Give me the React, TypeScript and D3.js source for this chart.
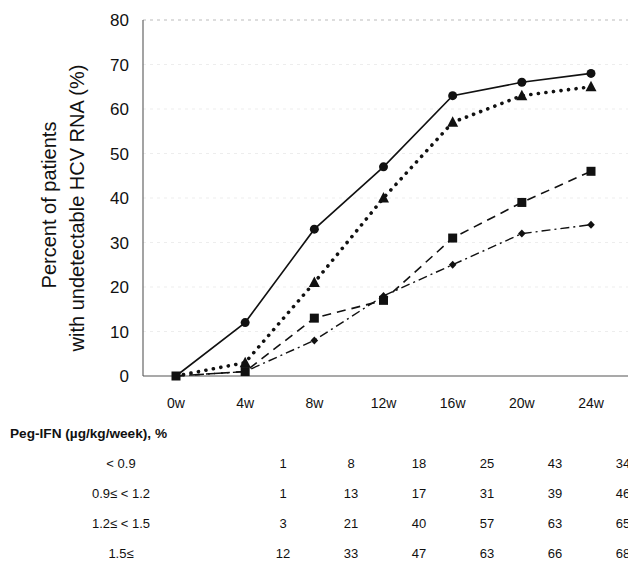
import React from "react";
import * as d3 from "d3";

const weeks = ["0w", "4w", "8w", "12w", "16w", "20w", "24w"];
const yTicks = [0, 10, 20, 30, 40, 50, 60, 70, 80];

// plotted values
const lt09 = [0, 1, 8, 18, 25, 32, 34];
const s09to12 = [0, 1, 13, 17, 31, 39, 46];
const s12to15 = [0, 3, 21, 40, 57, 63, 65];
const ge15 = [0, 12, 33, 47, 63, 66, 68];

// table (as printed)
const tableHeader = "Peg-IFN (µg/kg/week), %";
const tableLabels = ["< 0.9", "0.9\u2264  < 1.2", "1.2\u2264  < 1.5", "1.5\u2264"];
const tableRows = [
  [1, 8, 18, 25, 43, 34],
  [1, 13, 17, 31, 39, 46],
  [3, 21, 40, 57, 63, 65],
  [12, 33, 47, 63, 66, 68],
];

const W = 628;
const H = 566;
const FONT = "'Liberation Sans', Arial, sans-serif";

export default function App() {
  const axisX = 143;
  const y = d3.scaleLinear().domain([0, 80]).range([376, 20]);
  const x = d3.scalePoint<string>().domain(weeks).range([176, 591]);

  const line = d3
    .line<number>()
    .x((_, i) => x(weeks[i]) as number)
    .y((d) => y(d));

  const series = [
    { data: lt09, dash: "9 4 2 4", width: 1.4, cap: "butt", marker: "diamond" },
    { data: s09to12, dash: "9 6", width: 1.6, cap: "butt", marker: "square" },
    { data: s12to15, dash: "0.1 7.5", width: 3.6, cap: "round", marker: "triangle" },
    { data: ge15, dash: "", width: 1.6, cap: "butt", marker: "circle" },
  ];

  const marker = (type: string, cx: number, cy: number, key: string) => {
    if (type === "circle") return <circle key={key} cx={cx} cy={cy} r={4.5} fill="#111" />;
    if (type === "square")
      return <rect key={key} x={cx - 4.5} y={cy - 4.5} width={9} height={9} fill="#111" />;
    if (type === "triangle")
      return (
        <path key={key} d={`M${cx},${cy - 6} L${cx + 5.5},${cy + 4.5} L${cx - 5.5},${cy + 4.5} Z`} fill="#111" />
      );
    return <path key={key} d={`M${cx},${cy - 4} L${cx + 3.8},${cy} L${cx},${cy + 4} L${cx - 3.8},${cy} Z`} fill="#111" />;
  };

  const tableCols = d3.scalePoint<number>().domain([0, 1, 2, 3, 4, 5]).range([283, 623]);
  const rowY = d3.scalePoint<number>().domain([0, 1, 2, 3]).range([463, 553]);

  return (
    <svg
      width={W}
      height={H}
      style={{ position: "absolute", left: 0, top: 0, background: "#fff" }}
      fontFamily={FONT}
    >
      {/* gridlines */}
      {yTicks.slice(1).map((t) => (
        <line
          key={t}
          x1={axisX}
          x2={W}
          y1={y(t)}
          y2={y(t)}
          stroke={t === 80 ? "#aaa" : "#e8e8e8"}
          strokeWidth={0.8}
          strokeDasharray="3 4"
        />
      ))}
      {/* axes */}
      <line x1={axisX} x2={axisX} y1={y(80)} y2={y(0)} stroke="#666" strokeWidth={1.2} />
      <line x1={axisX} x2={W} y1={y(0)} y2={y(0)} stroke="#555" strokeWidth={1.2} />

      {/* y tick labels */}
      {yTicks.map((t) => (
        <text key={t} x={129} y={y(t)} dy="0.36em" textAnchor="end" fontSize={17} fill="#111">
          {t}
        </text>
      ))}
      {/* y title */}
      <text transform="translate(56,205) rotate(-90)" textAnchor="middle" fontSize={20} fill="#111">
        Percent of patients
      </text>
      <text transform="translate(84,208) rotate(-90)" textAnchor="middle" fontSize={20} fill="#111">
        with undetectable  HCV RNA (%)
      </text>

      {/* x tick labels */}
      {weeks.map((w) => (
        <text key={w} x={x(w)} y={403} dy="0.36em" textAnchor="middle" fontSize={14} fill="#111">
          {w}
        </text>
      ))}

      {/* lines */}
      {series.map((s, i) => (
        <path
          key={i}
          d={line(s.data) || ""}
          fill="none"
          stroke="#111"
          strokeWidth={s.width}
          strokeDasharray={s.dash || undefined}
          strokeLinecap={s.cap as any}
        />
      ))}
      {/* markers */}
      {series.map((s, i) =>
        s.data.map((v, j) =>
          j === 0 && s.marker !== "square" ? null : marker(s.marker, x(weeks[j]) as number, y(v), `${i}-${j}`)
        )
      )}

      {/* table */}
      <text x={10} y={433} dy="0.36em" fontSize={12.5} fontWeight="bold" fill="#111" textLength={157} lengthAdjust="spacingAndGlyphs">
        {tableHeader}
      </text>
      {tableLabels.map((l, r) => (
        <text key={l} x={121} y={rowY(r)} dy="0.36em" textAnchor="middle" fontSize={13} fill="#111">
          {l}
        </text>
      ))}
      {tableRows.map((row, r) =>
        row.map((v, c) => (
          <text
            key={`${r}-${c}`}
            x={tableCols(c)}
            y={rowY(r)}
            dy="0.36em"
            textAnchor="middle"
            fontSize={13}
            fill="#111"
          >
            {v}
          </text>
        ))
      )}
    </svg>
  );
}
